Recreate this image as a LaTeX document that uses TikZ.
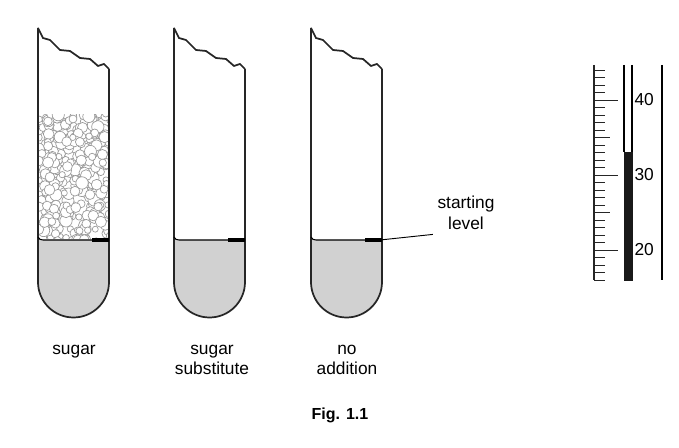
\documentclass[tikz,border=0pt]{standalone}
\usepackage{fontspec}
\setmainfont{Liberation Sans}
\begin{document}
\begin{tikzpicture}[x=0.75pt,y=-0.75pt,font=\fontsize{13}{15.5}\selectfont]
    \tikzstyle{glass}=[line width=1.3pt,draw=black!85]
    \tikzstyle{lbl}=[align=center,anchor=north]
    \tikzstyle{tick}=[line width=0.7pt,draw=black!85]
    \newcommand{\tube}[2]{% #1 = left x, #2 = name
      \fill[black!18] (#1,240) -- (#1,282) arc[start angle=180,end angle=0,radius=35.5] -- (#1+71,240) -- cycle;
      \draw[glass] (#1,28) -- (#1,282) arc[start angle=180,end angle=0,radius=35.5] -- (#1+71,69);
      \draw[glass] (#1,28) -- (#1+5,38) -- (#1+12,40) -- (#1+22,50) -- (#1+32,51) -- (#1+42,58) -- (#1+52,59) -- (#1+60,66) -- (#1+66,64) -- (#1+71,69);
      \draw[line width=0.8pt] (#1,237) to[out=-70,in=180] (#1+5,240) -- (#1+71,240);
      \fill[black] (#1+54,238.5) rectangle (#1+71,242);
      \coordinate (#2 mark) at (#1+69,240);
    }
    \useasboundingbox (0,0) rectangle (679,448);
    % granules
    \begin{scope}
      \clip (39,115) rectangle (108,239);
      \pgfmathsetseed{7}
      \foreach \i in {1,...,330} {
        \pgfmathsetmacro{\cx}{38+72*rnd}
        \pgfmathsetmacro{\cy}{113+128*rnd}
        \pgfmathsetmacro{\r}{2.8+3.4*rnd}
        \draw[black!40,fill=white,line width=0.5pt] (\cx,\cy) circle[radius=\r];
      }
    \end{scope}
    % tubes
    \tube{38}{sugar}
    \tube{174}{substitute}
    \tube{311}{none}
    \node[lbl] (sugar label) at (74,340) {sugar};
    \node[lbl] (substitute label) at (212,340) {sugar\\substitute};
    \node[lbl] (none label) at (347,340) {no\\addition};
    \node[align=center] (level label) at (466,213) {starting\\level};
    \draw[line width=0.7pt] (none mark) -- (level label.south west);
    \node[font=\fontsize{12}{14}\selectfont\bfseries] (fig) at (340,415) {Fig. 1.1};
    % thermometer
    \draw[glass,line width=1pt] (594,65) -- (594,280);
    \foreach \t in {16,...,44} {
      \pgfmathsetmacro{\ty}{100+(40-\t)*7.5}
      \pgfmathtruncatemacro{\m}{mod(\t,5)}
      \pgfmathtruncatemacro{\n}{mod(\t,10)}
      \ifnum\n=0 \draw[tick] (594,\ty) -- (618,\ty);
      \else\ifnum\m=0 \draw[tick] (594,\ty) -- (610,\ty);
      \else \draw[tick] (594,\ty) -- (605,\ty); \fi\fi
    }
    \fill[black!90] (623.5,152) rectangle (632.5,281);
    \draw[line width=1pt] (624,65) -- (624,152) (632,65) -- (632,152);
    \draw[line width=1pt] (662,65) -- (662,280);
    \foreach \v/\ty in {40/100,30/175,20/250}
      \node[anchor=west,inner sep=1pt] (temp \v) at (633,\ty) {\v};
\end{tikzpicture}
\end{document}
